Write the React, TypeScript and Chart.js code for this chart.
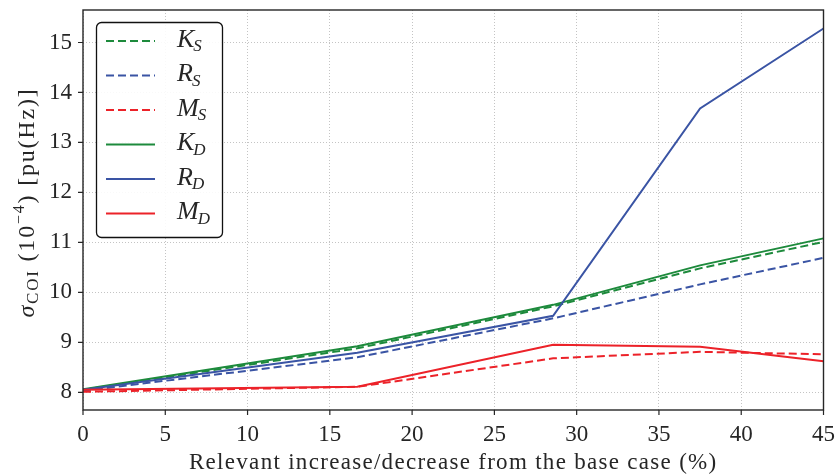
import React, { useEffect, useRef } from 'react';
import { Chart, registerables } from 'chart.js';

Chart.register(...registerables);

const xValues = [0, 16.67, 28.57, 37.5, 45];
const kS = [8.05, 8.88, 9.72, 10.48, 11.01];
const rS = [8.03, 8.7, 9.48, 10.16, 10.69];
const mS = [8.01, 8.11, 8.68, 8.81, 8.76];
const kD = [8.06, 8.92, 9.75, 10.54, 11.08];
const rD = [8.05, 8.79, 9.53, 13.68, 15.28];
const mD = [8.05, 8.11, 8.95, 8.91, 8.62];

const xTicks = [0, 5, 10, 15, 20, 25, 30, 35, 40, 45];
const yTicks = [8, 9, 10, 11, 12, 13, 14, 15];

const legendMain = ['K', 'R', 'M', 'K', 'R', 'M'];
const legendSub = ['S', 'S', 'S', 'D', 'D', 'D'];

const xTitle = 'Relevant increase/decrease from the base case (%)';

const GREEN = '#1d8a3c';
const BLUE = '#3a54a4';
const RED = '#ec2229';
const TEXT = '#262626';
const FRAME = '#262626';
const SERIF = '"Liberation Serif", "Times New Roman", serif';

const toPts = (ys: number[]) => xValues.map((x, i) => ({ x, y: ys[i] }));

const series = [
  { main: legendMain[0], sub: legendSub[0], data: kS, color: GREEN, dash: [8, 4] },
  { main: legendMain[1], sub: legendSub[1], data: rS, color: BLUE, dash: [8, 4] },
  { main: legendMain[2], sub: legendSub[2], data: mS, color: RED, dash: [8, 4] },
  { main: legendMain[3], sub: legendSub[3], data: kD, color: GREEN, dash: [] as number[] },
  { main: legendMain[4], sub: legendSub[4], data: rD, color: BLUE, dash: [] as number[] },
  { main: legendMain[5], sub: legendSub[5], data: mD, color: RED, dash: [] as number[] },
];

const framePlugin = {
  id: 'frameAndTicks',
  afterDraw(chart: any) {
    const { ctx, chartArea } = chart;
    const { left, right, top, bottom } = chartArea;
    ctx.save();
    ctx.strokeStyle = FRAME;
    ctx.lineWidth = 1.4;
    ctx.setLineDash([]);
    ctx.strokeRect(left, top, right - left, bottom - top);
    const xs = chart.scales.x;
    const ys = chart.scales.y;
    ctx.lineWidth = 1.2;
    ctx.beginPath();
    xTicks.forEach((v) => {
      const px = xs.getPixelForValue(v);
      ctx.moveTo(px, bottom);
      ctx.lineTo(px, bottom + 5);
    });
    yTicks.forEach((v) => {
      const py = ys.getPixelForValue(v);
      ctx.moveTo(left - 5, py);
      ctx.lineTo(left, py);
    });
    ctx.stroke();
    // x axis title
    ctx.fillStyle = TEXT;
    ctx.font = `23px ${SERIF}`;
    (ctx as any).letterSpacing = '1.3px';
    ctx.textAlign = 'left';
    ctx.textBaseline = 'middle';
    const w = ctx.measureText(xTitle).width;
    ctx.fillText(xTitle, (left + right) / 2 - w / 2, 463);
    (ctx as any).letterSpacing = '0px';
    ctx.restore();
  },
};

const legendPlugin = {
  id: 'mathLegend',
  afterDraw(chart: any) {
    const { ctx } = chart;
    ctx.save();
    const bx = 96.5, by = 22.5, bw = 126, bh = 215;
    ctx.beginPath();
    ctx.roundRect(bx, by, bw, bh, 5);
    ctx.fillStyle = 'rgba(255,255,255,0.9)';
    ctx.fill();
    ctx.strokeStyle = '#111';
    ctx.lineWidth = 1.3;
    ctx.stroke();
    const rowY0 = 41;
    const rowStep = 34.5;
    series.forEach((s, i) => {
      const y = rowY0 + i * rowStep;
      ctx.beginPath();
      ctx.setLineDash(s.dash);
      ctx.strokeStyle = s.color;
      ctx.lineWidth = 2;
      ctx.moveTo(106, y);
      ctx.lineTo(155, y);
      ctx.stroke();
      ctx.setLineDash([]);
      ctx.fillStyle = TEXT;
      ctx.textBaseline = 'alphabetic';
      ctx.textAlign = 'left';
      ctx.font = `italic 26px ${SERIF}`;
      ctx.fillText(s.main, 177, y + 5.7);
      const w = ctx.measureText(s.main).width;
      ctx.font = `italic 17px ${SERIF}`;
      ctx.fillText(s.sub, 177 + w - 1, y + 10);
    });
    ctx.restore();
  },
};

const yTitlePlugin = {
  id: 'yTitle',
  afterDraw(chart: any) {
    const { ctx } = chart;
    const parts = [
      { t: 'σ', f: `italic 24px ${SERIF}`, dy: 0 },
      { t: 'COI', f: `17px ${SERIF}`, dy: 4 },
      { t: ' (10', f: `24px ${SERIF}`, dy: 0 },
      { t: '−4', f: `16px ${SERIF}`, dy: -10 },
      { t: ') [pu(Hz)]', f: `24px ${SERIF}`, dy: 0 },
    ];
    ctx.save();
    (ctx as any).letterSpacing = '1.8px';
    let total = 0;
    const widths = parts.map((p) => {
      ctx.font = p.f;
      const w = ctx.measureText(p.t).width;
      total += w;
      return w;
    });
    ctx.translate(34, 202.5);
    ctx.rotate(-Math.PI / 2);
    ctx.fillStyle = TEXT;
    ctx.textBaseline = 'alphabetic';
    ctx.textAlign = 'left';
    let x = -total / 2;
    parts.forEach((p, i) => {
      ctx.font = p.f;
      ctx.fillText(p.t, x, p.dy);
      x += widths[i];
    });
    (ctx as any).letterSpacing = '0px';
    ctx.restore();
  },
};

export default function App() {
  const ref = useRef<HTMLCanvasElement | null>(null);
  useEffect(() => {
    document.body.style.margin = '0';
    if (!ref.current) return;
    const tickFont = { family: SERIF, size: 23 };
    const chart = new Chart(ref.current, {
      type: 'line',
      data: {
        datasets: series.map((s, i) => ({
          label: s.main + '_' + s.sub,
          data: toPts(s.data),
          borderColor: s.color,
          backgroundColor: s.color,
          borderDash: s.dash,
          borderWidth: 2,
          pointRadius: 0,
          tension: 0,
          fill: false,
          order: series.length - i,
        })),
      },
      options: {
        responsive: false,
        animation: false,
        devicePixelRatio: 1,
        layout: { padding: { left: 0, right: 12.5, top: 10, bottom: 0 } },
        plugins: {
          legend: { display: false },
          tooltip: { enabled: false },
        },
        scales: {
          x: {
            type: 'linear',
            min: 0,
            max: 45,
            afterBuildTicks: (s: any) => {
              s.ticks = xTicks.map((v) => ({ value: v }));
            },
            afterFit: (s: any) => {
              s.height = 66;
              s.paddingLeft = 0;
              s.paddingRight = 0;
            },
            grid: { color: '#c4c4c4', lineWidth: 1, drawTicks: false },
            border: { display: false, dash: [1, 2] },
            ticks: { font: tickFont, color: TEXT, padding: 11, maxRotation: 0, autoSkip: false },
            title: { display: false },
          },
          y: {
            type: 'linear',
            min: 7.646,
            max: 15.65,
            afterBuildTicks: (s: any) => {
              s.ticks = yTicks.map((v) => ({ value: v }));
            },
            afterFit: (s: any) => {
              s.width = 83;
              s.paddingTop = 0;
              s.paddingBottom = 0;
            },
            grid: { color: '#c4c4c4', lineWidth: 1, drawTicks: false },
            border: { display: false, dash: [1, 2] },
            ticks: { font: tickFont, color: TEXT, padding: 11, autoSkip: false },
          },
        },
      },
      plugins: [framePlugin, legendPlugin, yTitlePlugin],
    });
    return () => chart.destroy();
  }, []);
  return <canvas ref={ref} width={836} height={476} style={{ display: 'block' }} />;
}
